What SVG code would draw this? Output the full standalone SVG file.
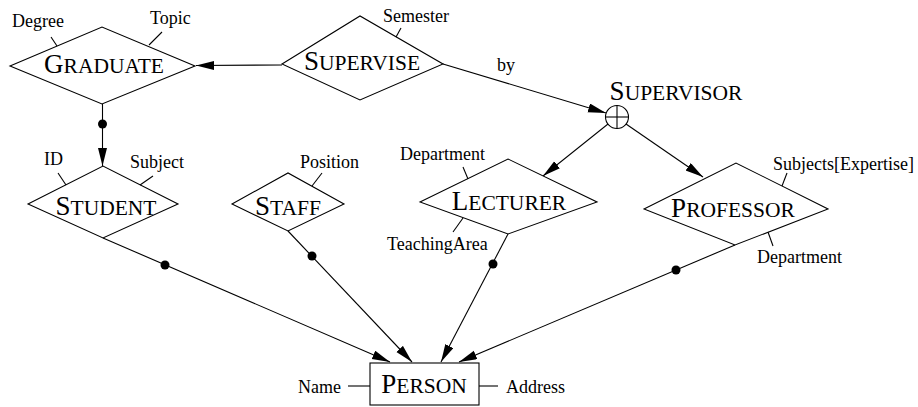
<svg xmlns="http://www.w3.org/2000/svg" width="918" height="407" viewBox="0 0 918 407">
<style>
text{font-family:"Liberation Serif","Times New Roman",serif;fill:#000}
.ent{font-size:21.5px;text-anchor:middle}
.big{font-size:27px}
.att{font-size:18px}
.shape{fill:#fff;stroke:#000;stroke-width:1.1}
.tick{stroke:#000;stroke-width:1.1;fill:none}
.con{stroke:#000;stroke-width:1.1;fill:none}
.arr{marker-end:url(#ah)}
.dot{fill:#000}
</style>
<defs>
<marker id="ah" markerUnits="userSpaceOnUse" markerWidth="20" markerHeight="10" refX="18" refY="4.5" orient="auto">
<path d="M0,0 L18,4.5 L0,9 z" fill="#000"/>
</marker>
</defs>
<g id="connectors">
<line class="con arr" x1="282" y1="65" x2="196" y2="65.5"/>
<line class="con arr" x1="102.5" y1="104" x2="102.5" y2="166"/>
<circle class="dot" cx="102.5" cy="124" r="4.5"/>
<line class="con arr" x1="443" y1="64" x2="606" y2="113"/>
<text class="att" x="497" y="71">by</text>
<line class="con arr" x1="608" y1="124" x2="543" y2="176"/>
<line class="con arr" x1="626" y1="124" x2="703" y2="177"/>
<line class="con arr" x1="103" y1="238" x2="390" y2="362"/>
<circle class="dot" cx="165" cy="265" r="4.5"/>
<line class="con arr" x1="288" y1="231" x2="412" y2="362"/>
<circle class="dot" cx="312" cy="256" r="4.5"/>
<line class="con arr" x1="508" y1="234" x2="441" y2="362"/>
<circle class="dot" cx="493" cy="264" r="4.5"/>
<line class="con arr" x1="735" y1="245" x2="459" y2="362"/>
<circle class="dot" cx="676" cy="270" r="4.5"/>
</g>
<g id="graduate">
<polygon class="shape" points="10,66 102,27 195,66 102,104"/>
<text class="ent" x="104" y="73"><tspan class="big">G</tspan>RADUATE</text>
<line class="tick" x1="51" y1="37" x2="57" y2="46"/>
<text class="att" x="12" y="27">Degree</text>
<line class="tick" x1="162" y1="32" x2="149" y2="45"/>
<text class="att" x="150" y="24">Topic</text>
</g>
<g id="supervise">
<polygon class="shape" points="282,64 360,16 443,64 360,100"/>
<text class="ent" x="362" y="70"><tspan class="big">S</tspan>UPERVISE</text>
<line class="tick" x1="401" y1="28" x2="396" y2="37"/>
<text class="att" x="383" y="22">Semester</text>
</g>
<g id="supervisor">
<circle cx="617" cy="117" r="11.5" fill="#fff" stroke="#000" stroke-width="1.1"/>
<line class="tick" x1="617" y1="105.5" x2="617" y2="128.5"/>
<line class="tick" x1="605.5" y1="117" x2="628.5" y2="117"/>
<text class="ent" x="676" y="100"><tspan class="big">S</tspan>UPERVISOR</text>
</g>
<g id="student">
<polygon class="shape" points="28,204 103,166 178,204 103,238"/>
<text class="ent" x="106" y="215"><tspan class="big">S</tspan>TUDENT</text>
<line class="tick" x1="58" y1="173" x2="66" y2="185"/>
<text class="att" x="44" y="165">ID</text>
<line class="tick" x1="153" y1="176" x2="140" y2="185"/>
<text class="att" x="130" y="168">Subject</text>
</g>
<g id="staff">
<polygon class="shape" points="232,204 288,173 344,204 288,231"/>
<text class="ent" x="288" y="215"><tspan class="big">S</tspan>TAFF</text>
<line class="tick" x1="322" y1="173" x2="312" y2="186"/>
<text class="att" x="300" y="168">Position</text>
</g>
<g id="lecturer">
<polygon class="shape" points="420,202 508,159 597,202 508,234"/>
<text class="ent" x="509" y="210"><tspan class="big">L</tspan>ECTURER</text>
<line class="tick" x1="463" y1="167" x2="468" y2="179"/>
<text class="att" x="400" y="160">Department</text>
<line class="tick" x1="453" y1="232" x2="463" y2="218"/>
<text class="att" x="387" y="250">TeachingArea</text>
</g>
<g id="professor">
<polygon class="shape" points="644,209 736,163 828,209 735,245"/>
<text class="ent" x="733" y="217"><tspan class="big">P</tspan>ROFESSOR</text>
<line class="tick" x1="787" y1="173" x2="782" y2="186"/>
<text class="att" x="773" y="170">Subjects[Expertise]</text>
<line class="tick" x1="773" y1="246" x2="768" y2="232"/>
<text class="att" x="757" y="263">Department</text>
</g>
<g id="person">
<rect class="shape" x="370" y="363" width="109" height="42"/>
<text class="ent" x="424" y="393"><tspan class="big">P</tspan>ERSON</text>
<line class="tick" x1="348" y1="386" x2="370" y2="386"/>
<text class="att" x="298" y="393">Name</text>
<line class="tick" x1="479" y1="386" x2="498" y2="386"/>
<text class="att" x="506" y="393">Address</text>
</g>
</svg>
